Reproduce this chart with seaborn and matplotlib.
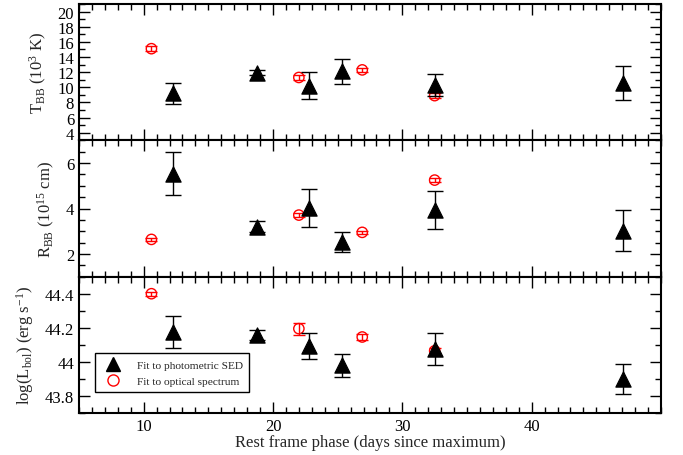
import matplotlib
matplotlib.use("Agg")
import matplotlib.pyplot as plt
from matplotlib.ticker import MultipleLocator, FuncFormatter, FixedLocator
from matplotlib.lines import Line2D
import seaborn as sns
import pandas as pd

# ---- data ----
phot_phase = [12.3, 18.8, 22.8, 25.3, 32.5, 47.1]
phot_T = [9.2, 11.95, 10.2, 12.1, 10.3, 10.55]
phot_T_err = [1.4, 0.3, 1.8, 1.65, 1.45, 2.25]
phot_R = [5.54, 3.2, 4.03, 2.52, 3.94, 3.03]
phot_R_err = [0.96, 0.23, 0.85, 0.44, 0.85, 0.92]
phot_L = [44.175, 44.156, 44.093, 43.98, 44.075, 43.90]
phot_L_err = [0.095, 0.03, 0.077, 0.067, 0.095, 0.09]

spec_phase = [10.6, 22.0, 26.9, 32.5]
spec_T = [15.1, 11.3, 12.3, 8.9]
spec_T_err = [0.3, 0.35, 0.25, 0.3]
spec_R = [2.64, 3.71, 2.95, 5.25]
spec_R_err = [0.07, 0.07, 0.08, 0.08]
spec_L = [44.40, 44.195, 44.146, 44.065]
spec_L_err = [0.012, 0.035, 0.015, 0.015]

x_ticks = [10, 20, 30, 40]
ylabels = [r"T$_{\rm BB}$ (10$^{3}$ K)", r"R$_{\rm BB}$ (10$^{15}$ cm)",
           r"log(L$_{\rm bol}$) (erg s$^{-1}$)"]
xlabel = "Rest frame phase (days since maximum)"
legend_labels = ["Fit to photometric SED", "Fit to optical spectrum"]

sns.set_theme(style="ticks")
plt.rcParams["font.family"] = ["Liberation Serif", "DejaVu Serif"]
plt.rcParams["mathtext.fontset"] = "custom"
plt.rcParams["mathtext.rm"] = "Liberation Serif"
plt.rcParams["mathtext.it"] = "Liberation Serif:italic"

fig, axes = plt.subplots(3, 1, figsize=(6.83, 4.56), dpi=100, sharex=True)
fig.subplots_adjust(left=79/683, right=661/683, top=1-5/456, bottom=1-414/456, hspace=0)

panels = [
    (phot_T, phot_T_err, spec_T, spec_T_err, (3, 21), 2, 1),
    (phot_R, phot_R_err, spec_R, spec_R_err, (1, 7), 2, 0.5),
    (phot_L, phot_L_err, spec_L, spec_L_err, (43.7, 44.5), 0.2, 0.1),
]

fmt = FuncFormatter(lambda v, p: "%g" % round(v, 3))

for ax, (pv, pe, sv, se, ylim, maj, mnr), lab in zip(axes, panels, ylabels):
    dp = pd.DataFrame({"phase": phot_phase, "val": pv, "err": pe})
    ds = pd.DataFrame({"phase": spec_phase, "val": sv, "err": se})
    ax.errorbar(ds["phase"], ds["val"], yerr=ds["err"], fmt="none", ecolor="red",
                elinewidth=1.0, capsize=4.5, capthick=1.0, zorder=2)
    sns.scatterplot(data=ds, x="phase", y="val", ax=ax, marker="o", s=55,
                    color="red", zorder=3, legend=False)
    coll = ax.collections[-1]
    coll.set_facecolor("none")
    coll.set_edgecolor("red")
    coll.set_linewidth(1.0)
    ax.errorbar(dp["phase"], dp["val"], yerr=dp["err"], fmt="none", ecolor="black",
                elinewidth=1.0, capsize=6, capthick=1.0, zorder=4)
    sns.scatterplot(data=dp, x="phase", y="val", ax=ax, marker="^", s=120,
                    color="black", edgecolor="black", zorder=5, legend=False)
    ax.set_ylim(*ylim)
    ax.set_xlim(5, 50)
    ax.yaxis.set_major_locator(MultipleLocator(maj))
    ax.yaxis.set_minor_locator(MultipleLocator(mnr))
    ax.yaxis.set_major_formatter(fmt)
    ax.xaxis.set_major_locator(FixedLocator(x_ticks))
    ax.xaxis.set_minor_locator(MultipleLocator(1))
    ax.tick_params(which="both", direction="in", top=True, right=True, width=1.0,
                   labelsize=12, colors="black")
    ax.tick_params(which="major", length=8)
    ax.tick_params(which="minor", length=4)
    for s in ax.spines.values():
        s.set_linewidth(1.5)
        s.set_color("black")
    ax.set_ylabel(lab, fontsize=12, labelpad=6)
    ax.set_xlabel("")

axes[2].set_xlabel(xlabel, fontsize=12, labelpad=0)

handles = [
    Line2D([], [], linestyle="none", marker="^", markersize=10, color="black"),
    Line2D([], [], linestyle="none", marker="o", markersize=8, markerfacecolor="none",
           markeredgecolor="red", markeredgewidth=1.0),
]
leg = axes[2].legend(handles, legend_labels, loc="lower left",
                     bbox_to_anchor=(0.0275, 0.153), fontsize=8.2, frameon=True,
                     fancybox=False, framealpha=1, edgecolor="black",
                     handlelength=2.0, handletextpad=1.1, borderpad=0.55,
                     labelspacing=0.55, borderaxespad=0)
leg.get_frame().set_linewidth(1.0)

fig.savefig("out.png", dpi=100)
